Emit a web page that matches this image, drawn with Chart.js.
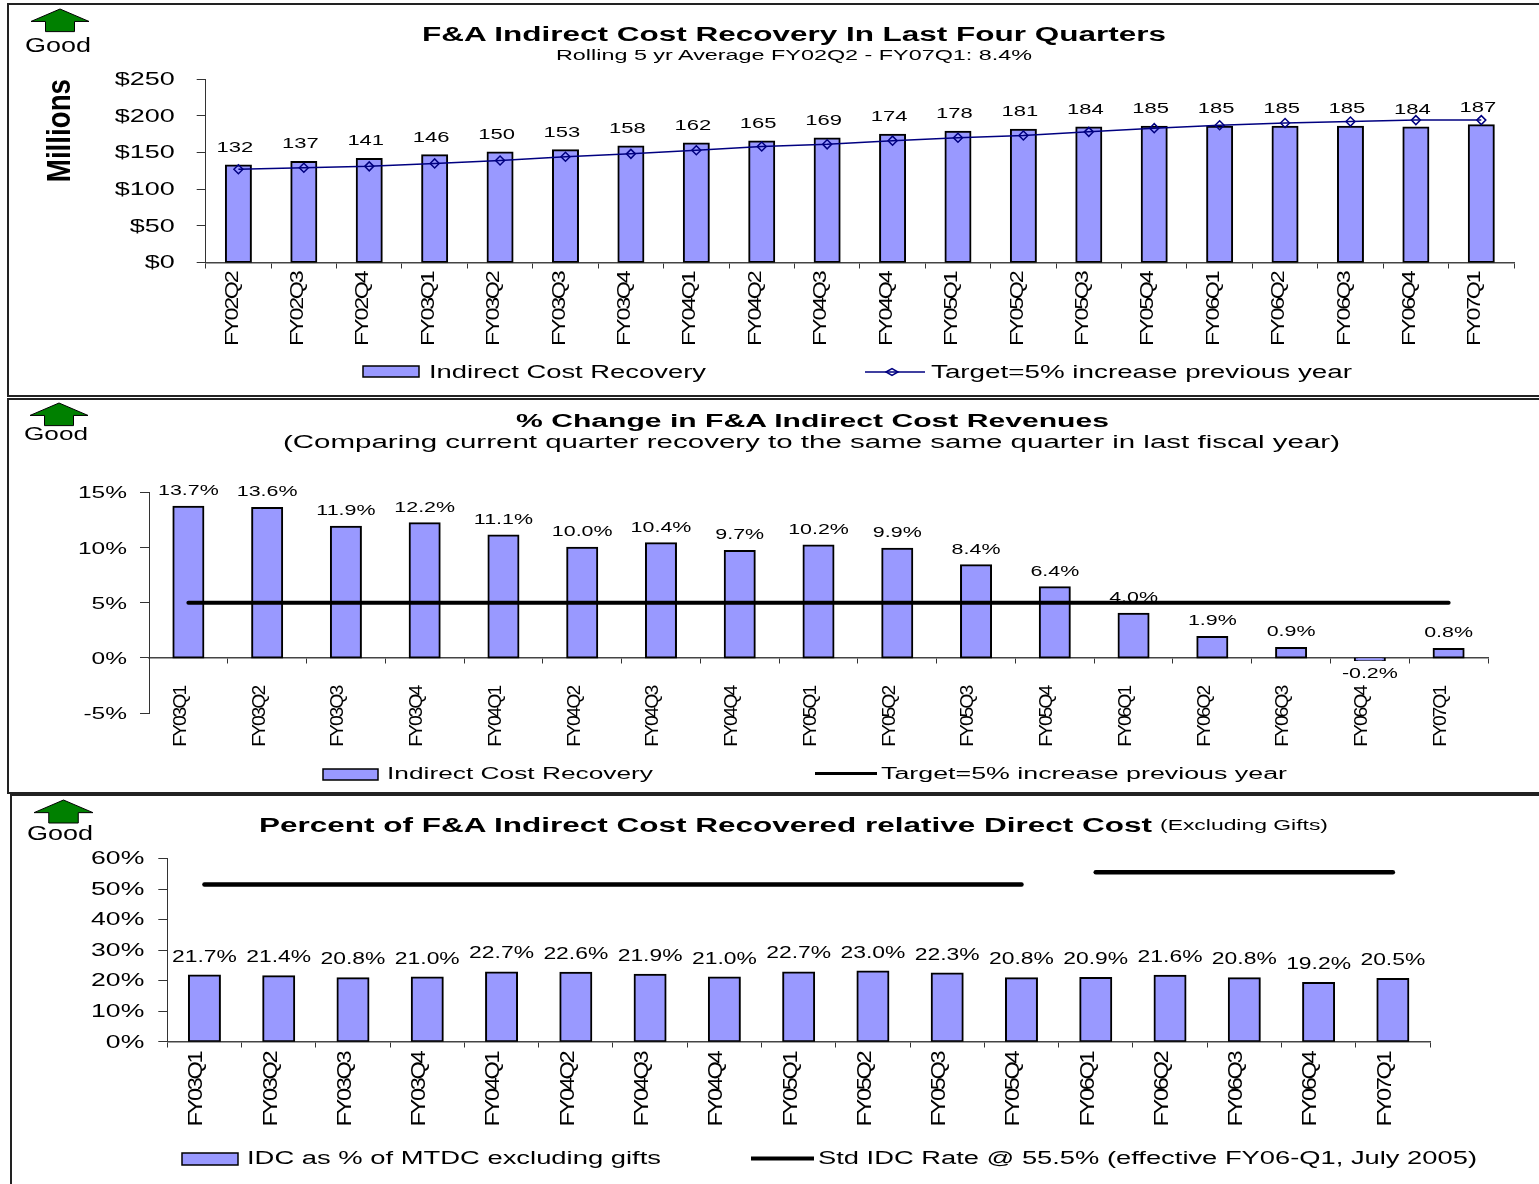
<!DOCTYPE html>
<html>
<head>
<meta charset="utf-8">
<title>F&amp;A Indirect Cost Recovery</title>
<script src="https://cdn.jsdelivr.net/npm/chart.js@4"></script>
<style>
  html, body { margin: 0; padding: 0; background: #fff; overflow: hidden; }
  #page { position: relative; width: 1539px; height: 1184px; overflow: hidden; font-family: "Liberation Sans", Arial, sans-serif; color: #000; }
  canvas { position: absolute; left: 0; }
  .frame { position: absolute; box-sizing: border-box; border: 2px solid #222; }
  .cap { position: absolute; white-space: pre; transform-origin: 0 50%; line-height: 1; }
  svg { position: absolute; left: 0; top: 0; }
</style>
</head>
<body>
<div id="page">
  <div class="frame" style="left:7px;top:3px;width:1540px;height:394px"></div>
  <div class="frame" style="left:7px;top:398px;width:1540px;height:396px"></div>
  <div class="frame" style="left:10px;top:794px;width:1540px;height:400px"></div>
  <canvas id="recovery" width="1539" height="397" style="top:0"></canvas>
  <canvas id="change" width="1539" height="397" style="top:397px"></canvas>
  <canvas id="percent" width="1539" height="390" style="top:794px"></canvas>
  <svg id="marks" width="1539" height="1184"></svg>
</div>
<script>
// Values
const quarters20 = ['FY02Q2', 'FY02Q3', 'FY02Q4', 'FY03Q1', 'FY03Q2', 'FY03Q3', 'FY03Q4', 'FY04Q1', 'FY04Q2', 'FY04Q3',
  'FY04Q4', 'FY05Q1', 'FY05Q2', 'FY05Q3', 'FY05Q4', 'FY06Q1', 'FY06Q2', 'FY06Q3', 'FY06Q4', 'FY07Q1'];
const quarters17 = quarters20.slice(3);

const recoveryMillions = [132, 137, 141, 146, 150, 153, 158, 162, 165, 169, 174, 178, 181, 184, 185, 185, 185, 185, 184, 187];
const targetMillions = [127, 129, 131, 135, 139, 144, 148, 153, 158, 161, 166, 170, 173, 178, 183, 187, 190, 192, 194, 194];

const changePct = [13.7, 13.6, 11.9, 12.2, 11.1, 10.0, 10.4, 9.7, 10.2, 9.9, 8.4, 6.4, 4.0, 1.9, 0.9, -0.2, 0.8];
const changeTargetPct = [5, 5, 5, 5, 5, 5, 5, 5, 5, 5, 5, 5, 5, 5, 5, 5, 5];

const mtdcPct = [21.7, 21.4, 20.8, 21.0, 22.7, 22.6, 21.9, 21.0, 22.7, 23.0, 22.3, 20.8, 20.9, 21.6, 20.8, 19.2, 20.5];
const stdRateOldPct = [51.5, 51.5, 51.5, 51.5, 51.5, 51.5, 51.5, 51.5, 51.5, 51.5, 51.5, 51.5, null, null, null, null, null];
const stdRateNewPct = [null, null, null, null, null, null, null, null, null, null, null, null, 55.5, 55.5, 55.5, 55.5, 55.5];

const BAR_FILL = '#9999ff';
const NAVY = '#000080';
const FONT = '"Liberation Sans", Arial, sans-serif';

// The picture was stretched sideways: upright text is wide, rotated text is
// jammed together along its length. Both are patched in at the context.
function reshapeText(ctx, p) {
  const fill = ctx.fillText;
  ctx.fillText = function (t, x, y, m) {
    ctx.save();
    ctx.translate(x, y);
    if (Math.abs(ctx.getTransform().b) > 0.01) {
      if (ctx.font.startsWith('bold')) {
        ctx.scale(0.84, 1);
      } else {
        ctx.scale(p.along, 1);
        ctx.letterSpacing = p.spacing + 'px';
      }
    } else {
      ctx.translate(0, p.dy);
      ctx.scale(p.stretch, 1);
    }
    fill.call(ctx, t, 0, 0, m);
    ctx.restore();
  };
}

// Value labels go on right after the bars, so the target line covers them
const barLabels = {
  id: 'barLabels',
  afterDatasetDraw(chart, args, opts) {
    if (args.index !== 0) return;
    const ctx = chart.ctx;
    ctx.save();
    ctx.font = `${opts.size}px ${FONT}`;
    ctx.fillStyle = '#000';
    ctx.textAlign = 'center';
    ctx.textBaseline = 'middle';
    args.meta.data.forEach((bar, i) => {
      const v = chart.data.datasets[0].data[i];
      const y = v < 0 ? bar.y + opts.below : bar.y - opts.above;
      ctx.fillText(opts.format(v), bar.x + opts.dx, y);
    });
    ctx.restore();
  }
};

function barSet(label, data, barPercentage) {
  return { type: 'bar', label, data, order: 2, backgroundColor: BAR_FILL, borderColor: '#000', borderWidth: 2,
    borderSkipped: false, inflateAmount: 1, barPercentage, categoryPercentage: 1 };
}

function blackLine(label, data, width) {
  return { type: 'line', label, data, order: 1, borderColor: '#000', borderWidth: width, borderCapStyle: 'round',
    pointRadius: 0, fill: false, tension: 0, spanGaps: false };
}

function makeChart(id, p) {
  const canvas = document.getElementById(id);
  const ctx = canvas.getContext('2d');
  reshapeText(ctx, p);
  return new Chart(ctx, {
    data: { labels: p.labels, datasets: p.datasets },
    plugins: [barLabels],
    options: {
      responsive: false,
      animation: false,
      devicePixelRatio: 1,
      layout: { autoPadding: false, padding: p.padding },
      plugins: { legend: { display: false }, title: { display: false }, tooltip: { enabled: false }, barLabels: p.barLabels },
      scales: {
        x: {
          position: { y: 0 },
          border: { color: '#444', width: 1.5 },
          grid: { offset: true, drawOnChartArea: false, color: '#333', tickLength: 5 },
          ticks: { autoSkip: false, minRotation: 90, maxRotation: 90, padding: p.xPad, labelOffset: p.xShift,
            color: '#000', font: { family: FONT, size: p.xSize } }
        },
        y: {
          min: p.min, max: p.max,
          border: { color: '#333', width: 1 },
          grid: { drawOnChartArea: false, color: '#333', tickLength: 9 },
          title: p.yTitle || { display: false },
          afterFit(scale) { scale.width = p.yWidth; },
          ticks: { stepSize: p.step, padding: p.yPad, color: '#000', font: { family: FONT, size: p.ySize }, callback: p.yFormat }
        }
      }
    }
  });
}

makeChart('recovery', {
  labels: quarters20,
  stretch: 1.42, dy: 0.6, along: 1.25, spacing: -1.75,
  padding: { left: 41, top: 79, right: 1539 - 1514, bottom: 397 - 262.5 },
  yWidth: 164.7,
  min: 0, max: 250, step: 50,
  yFormat: v => '$' + v,
  ySize: 19, yPad: 22,
  xSize: 18.6, xPad: 5, xShift: -6,
  yTitle: { display: true, text: 'Millions', align: 'end', padding: 0, color: '#000',
    font: { family: FONT, size: 33, weight: 'bold', lineHeight: 1.2 } },
  barLabels: { size: 15.5, above: 18.5, below: 13, dx: -3.5, format: v => String(v) },
  datasets: [
    barSet('Indirect Cost Recovery', recoveryMillions, 0.382),
    { type: 'line', label: 'Target=5% increase previous year', data: targetMillions, order: 1, borderColor: NAVY, borderWidth: 1.5,
      tension: 0, pointStyle: 'rectRot', pointRadius: 4.5, pointBorderColor: NAVY, pointBorderWidth: 1.5, pointBackgroundColor: 'rgba(0,0,0,0)' }
  ]
});

makeChart('change', {
  labels: quarters17,
  stretch: 1.53, dy: 1.5, along: 1.1, spacing: -1.9,
  padding: { left: 59, top: 492.5 - 397, right: 1539 - 1488, bottom: 397 - (713 - 397) },
  yWidth: 90,
  min: -5, max: 15, step: 5,
  yFormat: v => v + '%',
  ySize: 16, yPad: 13,
  xSize: 17.7, xPad: 24, xShift: -7.5,
  barLabels: { size: 14, above: 17, below: 13, dx: 0, format: v => v.toFixed(1) + '%' },
  datasets: [
    barSet('Indirect Cost Recovery', changePct, 0.381),
    blackLine('Target=5% increase previous year', changeTargetPct, 4)
  ]
});

makeChart('percent', {
  labels: quarters17,
  stretch: 1.43, dy: 0.7, along: 1.2, spacing: -1.9,
  padding: { left: 60, top: 858.5 - 794, right: 1539 - 1430, bottom: 390 - (1041.7 - 794) },
  yWidth: 107.3,
  min: 0, max: 60, step: 10,
  yFormat: v => v + '%',
  ySize: 18.6, yPad: 14,
  xSize: 19.6, xPad: 6, xShift: -7.5,
  barLabels: { size: 16, above: 19, below: 13, dx: 0, format: v => v.toFixed(1) + '%' },
  datasets: [
    barSet('IDC as % of MTDC excluding gifts', mtdcPct, 0.417),
    blackLine('Std IDC Rate', stdRateOldPct, 4.5),
    blackLine('Std IDC Rate @ 55.5% (effective FY06-Q1, July 2005)', stdRateNewPct, 4.5)
  ]
});

// Titles, legends and the Good arrows sit around the plots: [text, left, right, centre y, size, bold]
const captions = [
  ['Good', 25, 91, 44.5, 20],
  ['F&A Indirect Cost Recovery In Last Four Quarters', 422, 1166, 33.5, 20, true],
  ['Rolling 5 yr Average FY02Q2 - FY07Q1: 8.4%', 556, 1032, 55, 15.5],
  ['Indirect Cost Recovery', 429, 706, 371.5, 18],
  ['Target=5% increase previous year', 931, 1352, 371.5, 18],
  ['Good', 24, 88, 435, 17.5],
  ['% Change in F&A Indirect Cost Revenues', 516, 1109, 421, 18, true],
  ['(Comparing current quarter recovery to the same same quarter in last fiscal year)', 283, 1340, 442, 18],
  ['Indirect Cost Recovery', 387, 653, 774, 16],
  ['Target=5% increase previous year', 881, 1287, 774, 16],
  ['Good', 27, 93, 832.5, 20],
  ['Percent of F&A Indirect Cost Recovered relative Direct Cost', 259, 1152, 824.5, 20, true],
  ['(Excluding Gifts)', 1160, 1328, 824.5, 15.5],
  ['IDC as % of MTDC excluding gifts', 247, 661, 1158, 18],
  ['Std IDC Rate @ 55.5% (effective FY06-Q1, July 2005)', 818, 1477, 1158, 18]
];

const page = document.getElementById('page');
captions.forEach(([text, left, right, y, size, bold]) => {
  const el = document.createElement('div');
  el.className = 'cap';
  el.textContent = text;
  el.style.left = left + 'px';
  el.style.top = (y - size / 2) + 'px';
  el.style.fontSize = size + 'px';
  if (bold) el.style.fontWeight = 'bold';
  page.appendChild(el);
  el.style.transform = `scaleX(${(right - left) / el.getBoundingClientRect().width})`;
});

// Arrows and legend keys
const marks = [];
[[31, 9, 58], [30, 403, 58], [34, 800, 59]].forEach(([x, y, w]) => {
  const h = w * 0.39, sx = x + w * 0.25, ex = x + w * 0.75, wing = y + h * 0.55;
  marks.push(`<polygon points="${x + w / 2},${y} ${x + w},${wing} ${ex},${wing} ${ex},${y + h} ${sx},${y + h} ${sx},${wing} ${x},${wing}" fill="#008000" stroke="#000" stroke-width="1"/>`);
});
[[363, 366, 56, 11], [323, 769, 55, 11], [182, 1153, 56, 12]].forEach(([x, y, w, h]) => {
  marks.push(`<rect x="${x}" y="${y}" width="${w}" height="${h}" fill="${BAR_FILL}" stroke="#000" stroke-width="1.5"/>`);
});
marks.push(`<line x1="865" y1="372" x2="925" y2="372" stroke="${NAVY}" stroke-width="1.5"/>`);
marks.push(`<polygon points="886,372 892,368.5 898,372 892,375.5" fill="none" stroke="${NAVY}" stroke-width="1.5"/>`);
marks.push('<line x1="815" y1="773.5" x2="877" y2="773.5" stroke="#000" stroke-width="3"/>');
marks.push('<line x1="751" y1="1158.5" x2="814" y2="1158.5" stroke="#000" stroke-width="4"/>');
document.getElementById('marks').innerHTML = marks.join('');
</script>
</body>
</html>
